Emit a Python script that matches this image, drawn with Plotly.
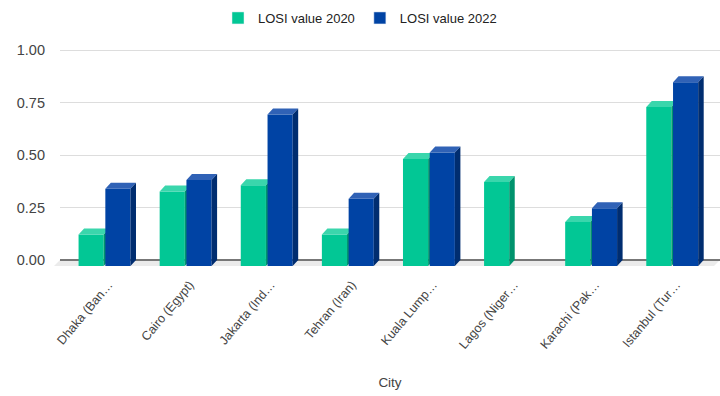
import plotly.graph_objects as go

# ---- data ----
city_labels = ["Dhaka (Ban…", "Cairo (Egypt)", "Jakarta (Ind…", "Tehran (Iran)",
               "Kuala Lump…", "Lagos (Niger…", "Karachi (Pak…", "Istanbul (Tur…"]
losi_2020 = [0.15, 0.355, 0.385, 0.15, 0.51, 0.40, 0.21, 0.757]
losi_2022 = [0.368, 0.41, 0.722, 0.32, 0.54, None, 0.275, 0.875]
series_names = ["LOSI value 2020", "LOSI value 2022"]

# ---- styles ----
front_cols = ["#02C795", "#0043A4"]
top_cols = ["#3AD6AC", "#3062B6"]
side_cols = ["#00936D", "#002D70"]

W = 0.31        # bar width (category units)
GAP = 0.01      # half gap between the two bars
DX = 0.068      # depth offset in x (category units)
DY = 0.0286     # depth offset in y (value units)

FONT = "Liberation Sans, Arial, sans-serif"

fig = go.Figure()

offsets = [-GAP - W, GAP]
for s, vals in enumerate([losi_2020, losi_2022]):
    fx, fy, tx, ty, sx, sy = [], [], [], [], [], []
    for i, v in enumerate(vals):
        if v is None:
            continue
        x0 = i + offsets[s]
        x1 = x0 + W
        # front face
        fx += [x0, x1, x1, x0, x0, None]
        fy += [-DY, -DY, v - DY, v - DY, -DY, None]
        # top face
        tx += [x0, x0 + DX, x1 + DX, x1, x0, None]
        ty += [v - DY, v, v, v - DY, v - DY, None]
        # side face
        sx += [x1, x1 + DX, x1 + DX, x1, x1, None]
        sy += [-DY, 0, v, v - DY, -DY, None]
    for xs, ys, col in [(fx, fy, front_cols[s]), (tx, ty, top_cols[s]), (sx, sy, side_cols[s])]:
        fig.add_trace(go.Scatter(x=xs, y=ys, mode="lines", fill="toself", fillcolor=col,
                                 line=dict(width=0, color=col), showlegend=False,
                                 hoverinfo="skip"))

# legend entries
for s in range(2):
    fig.add_trace(go.Bar(x=[None], y=[None], name=series_names[s],
                         marker=dict(color=front_cols[s]), showlegend=True))

fig.add_shape(type="path", xref="paper", yref="y",
              path=f"M 0,0 L 1,0 L {1 - 6/660},{-DY} L {-6/660},{-DY} Z",
              fillcolor="#EBEBEB", line=dict(width=0), layer="below")

fig.update_layout(
    width=720, height=396,
    margin=dict(l=60, r=0, t=38, b=124),
    paper_bgcolor="white", plot_bgcolor="white",
    font=dict(family=FONT, size=13, color="#444444"),
    legend=dict(orientation="h", xref="container", yref="container",
                x=0.5, xanchor="center", y=1 - 18 / 396, yanchor="middle",
                font=dict(size=13, color="#222222"), itemclick=False),
    showlegend=True,
    xaxis=dict(range=[-0.549, 7.589], tickmode="array",
               tickvals=list(range(len(city_labels))), ticktext=city_labels,
               tickangle=-50, showgrid=False, zeroline=False, showline=False,
               ticks="", tickfont=dict(size=12.5), automargin=False,
               ticklabelshift=4, ticklabelstandoff=2,
               title=dict(text="City", font=dict(size=13.5, color="#444444"),
                          standoff=26)),
    yaxis=dict(range=[-0.05714, 1.05714], tickmode="array",
               tickvals=[0, 0.25, 0.5, 0.75, 1.0],
               ticktext=["0.00", "0.25", "0.50", "0.75", "1.00"],
               tickfont=dict(size=14.5), automargin=False,
               gridcolor="#DDDDDD", gridwidth=1,
               zeroline=True, zerolinecolor="#777777", zerolinewidth=1.5,
               showline=False, ticklabelstandoff=14),
)

fig.write_html("out.html")
